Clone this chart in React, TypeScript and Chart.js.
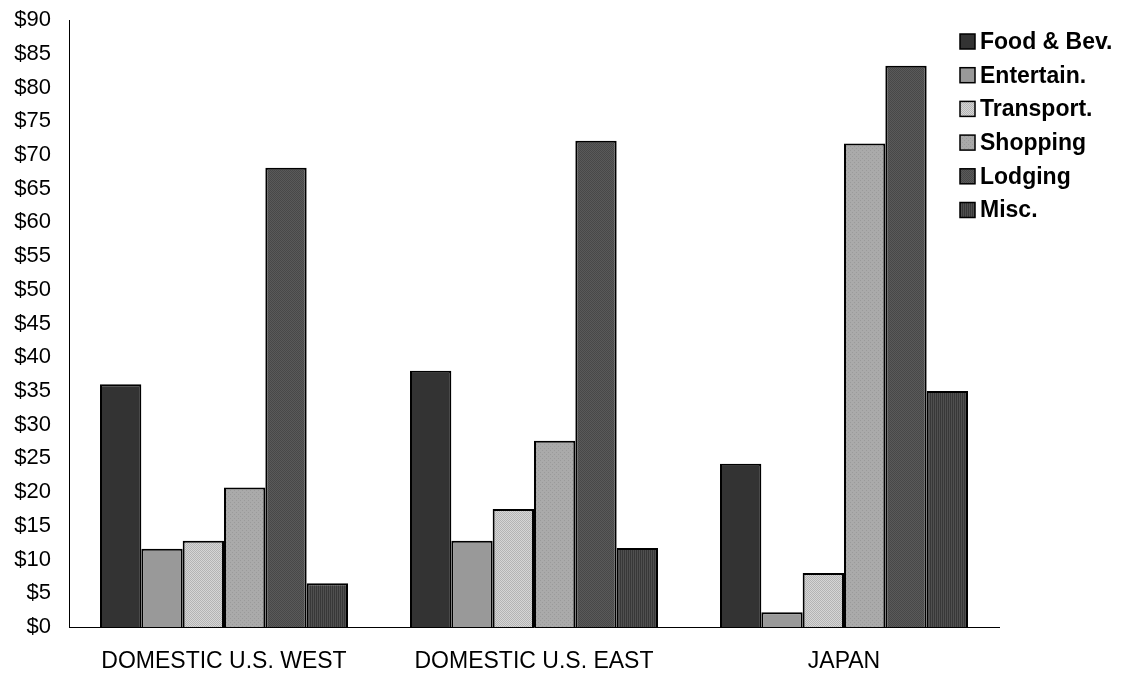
import React, { useEffect, useRef } from "react";
import { Chart, registerables } from "chart.js";

Chart.register(...registerables);

const categories = ["DOMESTIC U.S. WEST", "DOMESTIC U.S. EAST", "JAPAN"];
const seriesNames = ["Food & Bev.", "Entertain.", "Transport.", "Shopping", "Lodging", "Misc."];
const foodBev = [36, 38, 24.2];
const entertain = [11.6, 12.8, 2.2];
const transport = [12.8, 17.5, 8];
const shopping = [20.7, 27.6, 71.7];
const lodging = [68.1, 72.1, 83.2];
const misc = [6.5, 11.7, 35];
const yTicks = [0, 5, 10, 15, 20, 25, 30, 35, 40, 45, 50, 55, 60, 65, 70, 75, 80, 85, 90];

function makePattern(bg: string, fg: string, kind: string): CanvasPattern | string {
  const c = document.createElement("canvas");
  c.width = 4;
  c.height = 4;
  const x = c.getContext("2d");
  if (!x) return bg;
  x.fillStyle = bg;
  x.fillRect(0, 0, 4, 4);
  x.fillStyle = fg;
  if (kind === "checker") {
    for (let i = 0; i < 4; i++) for (let j = 0; j < 4; j++) if ((i + j) % 2 === 0) x.fillRect(i, j, 1, 1);
  } else if (kind === "dots") {
    x.fillRect(0, 0, 1, 1);
    x.fillRect(2, 2, 1, 1);
  } else if (kind === "vstripe") {
    x.fillRect(0, 0, 1, 4);
    x.fillRect(2, 0, 1, 4);
  }
  const p = x.createPattern(c, "repeat");
  return p || bg;
}

export default function App() {
  const ref = useRef<HTMLCanvasElement>(null);
  useEffect(() => {
    document.body.style.margin = "0";
    const canvas = ref.current;
    if (!canvas) return;
    const fills = [
      "#333333",
      "#999999",
      makePattern("#d6d6d6", "#b4b4b4", "checker"),
      makePattern("#aaaaaa", "#9a9a9a", "dots"),
      makePattern("#5a5a5a", "#484848", "checker"),
      makePattern("#505050", "#383838", "vstripe"),
    ];
    const values = [foodBev, entertain, transport, shopping, lodging, misc];
    const legendPlugin = {
      id: "customLegend",
      afterDraw(chart: any) {
        const ctx = chart.ctx;
        ctx.save();
        const x0 = 960;
        const y0 = 34;
        const step = 33.7;
        chart.data.datasets.forEach((ds: any, i: number) => {
          const y = y0 + i * step;
          ctx.fillStyle = ds.backgroundColor;
          ctx.fillRect(x0, y, 15, 15);
          ctx.strokeStyle = "#000";
          ctx.lineWidth = 1.5;
          ctx.strokeRect(x0, y, 15, 15);
          ctx.fillStyle = "#000";
          ctx.font = "bold 23px 'Liberation Sans', Arial, sans-serif";
          ctx.textBaseline = "middle";
          ctx.textAlign = "left";
          ctx.fillText(ds.label, x0 + 20, y + 8.5);
        });
        ctx.restore();
      },
    };
    const chart = new Chart(canvas, {
      type: "bar",
      data: {
        labels: categories,
        datasets: seriesNames.map((n, i) => ({
          label: n,
          data: values[i],
          backgroundColor: fills[i] as any,
          borderColor: "#000000",
          borderWidth: 2,
          borderSkipped: "bottom" as any,
          barPercentage: 1.0,
          categoryPercentage: 0.8,
        })),
      },
      options: {
        animation: false,
        responsive: false,
        maintainAspectRatio: false,
        layout: { padding: { top: 20, right: 125, left: 0, bottom: 0 } },
        plugins: {
          legend: { display: false },
          tooltip: { enabled: false },
        },
        scales: {
          x: {
            grid: { display: false, drawTicks: false },
            border: { display: true, color: "#000", width: 1 },
            ticks: {
              color: "#000",
              padding: 21,
              font: { family: "'Liberation Sans', Arial, sans-serif", size: 23 },
            },
            afterFit: (s: any) => {
              s.height = 48;
            },
          },
          y: {
            min: 0,
            max: 90,
            afterBuildTicks: (s: any) => {
              s.ticks = yTicks.map((v) => ({ value: v }));
            },
            grid: { display: false, drawTicks: false },
            border: { display: true, color: "#000", width: 1 },
            ticks: {
              color: "#000",
              padding: 18,
              autoSkip: false,
              font: { family: "'Liberation Sans', Arial, sans-serif", size: 22 },
              callback: (v: any) => "$" + v,
            },
            afterFit: (s: any) => {
              s.width = 69;
              s.paddingTop = 0;
              s.paddingBottom = 0;
            },
          },
        },
      },
      plugins: [legendPlugin],
    });
    return () => chart.destroy();
  }, []);
  return (
    <div style={{ position: "absolute", left: 0, top: 0, width: 1124, height: 675 }}>
      <canvas ref={ref} width={1124} height={675} style={{ width: 1124, height: 675 }} />
    </div>
  );
}
